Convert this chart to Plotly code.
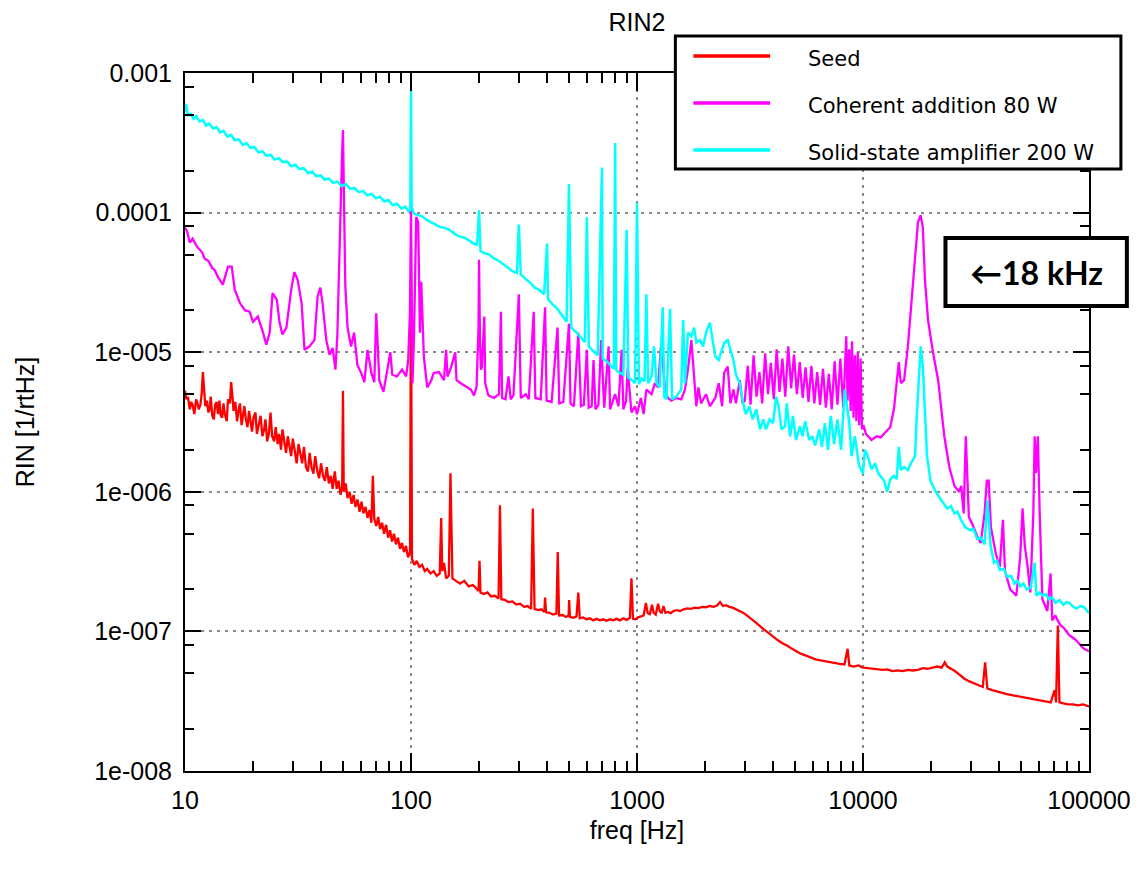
import plotly.graph_objects as go

# ---------------- data ----------------
X_TICKS = [10, 100, 1000, 10000, 100000]
X_TICK_TEXT = ["10", "100", "1000", "10000", "100000"]
X_MINOR = [m * d for d in (10, 100, 1000, 10000) for m in (2, 3, 4, 5, 6, 7, 8, 9)]
Y_TICKS = [1e-8, 1e-7, 1e-6, 1e-5, 1e-4, 1e-3]
Y_TICK_TEXT = ["1e-008", "1e-007", "1e-006", "1e-005", "0.0001", "0.001"]
Y_MINOR = [m * d for d in (1e-8, 1e-7, 1e-6, 1e-5, 1e-4) for m in (2, 5, 8)]

SERIES_NAMES = ["Seed", "Coherent addition 80 W", "Solid-state amplifier 200 W"]

SEED = [
    (10.0, 5.3e-6), (10.15, 4.6e-6), (10.3, 4.8e-6), (10.5, 3.9e-6), (10.65, 4.4e-6), (10.8, 4.2e-6),
    (11.0, 3.6e-6), (11.2, 4.6e-6), (11.35, 4.3e-6), (11.5, 3.9e-6), (11.7, 4.2e-6), (11.85, 5.0e-6),
    (12.0, 7.2e-6), (12.15, 5.2e-6), (12.3, 4.1e-6), (12.5, 4.5e-6), (12.7, 3.7e-6), (12.85, 3.9e-6),
    (13.0, 4.8e-6), (13.2, 3.5e-6), (13.4, 3.3e-6), (13.6, 4.2e-6), (13.8, 4.4e-6), (14.0, 3.6e-6),
    (14.2, 4.5e-6), (14.4, 3.5e-6), (14.6, 3.4e-6), (14.8, 4.3e-6), (15.0, 3.6e-6), (15.3, 3.2e-6),
    (15.5, 4.6e-6), (15.8, 4.3e-6), (16.0, 6.1e-6), (16.2, 4.9e-6), (16.4, 3.8e-6), (16.7, 4.4e-6),
    (17.0, 3.2e-6), (17.2, 3.7e-6), (17.5, 4.3e-6), (17.8, 3.0e-6), (18.0, 3.4e-6), (18.3, 4.1e-6),
    (18.6, 3.3e-6), (18.9, 2.9e-6), (19.2, 3.8e-6), (19.5, 3.2e-6), (19.8, 2.7e-6), (20.1, 3.4e-6),
    (20.5, 3.7e-6), (20.8, 2.6e-6), (21.2, 3.0e-6), (21.6, 3.5e-6), (22.0, 2.5e-6), (22.4, 2.8e-6),
    (22.7, 3.3e-6), (23.1, 2.3e-6), (23.5, 2.6e-6), (23.9, 3.7e-6), (24.3, 2.5e-6), (24.8, 2.3e-6),
    (25.2, 2.9e-6), (25.7, 2.2e-6), (26.1, 2.6e-6), (26.6, 2.0e-6), (27.0, 2.8e-6), (27.5, 2.2e-6),
    (28.0, 1.9e-6), (28.5, 2.5e-6), (29.0, 2.1e-6), (29.5, 1.8e-6), (30.0, 2.4e-6), (30.6, 1.9e-6),
    (31.2, 1.6e-6), (31.8, 2.2e-6), (32.4, 1.8e-6), (33.0, 1.6e-6), (33.6, 2.1e-6), (34.3, 1.5e-6),
    (35.0, 1.4e-6), (35.6, 1.9e-6), (36.3, 1.5e-6), (37.0, 1.35e-6), (37.7, 1.8e-6), (38.5, 1.4e-6),
    (39.2, 1.25e-6), (40.0, 1.6e-6), (40.8, 1.3e-6), (41.6, 1.2e-6), (42.4, 1.5e-6), (43.3, 1.15e-6),
    (44.2, 1.3e-6), (45.0, 1.05e-6), (46.0, 1.4e-6), (46.9, 1.05e-6), (47.8, 1.2e-6), (48.8, 0.95e-6),
    (49.6, 1.1e-6), (50.0, 5.3e-6), (50.4, 1.0e-6), (51.4, 1.15e-6), (52.4, 0.9e-6), (53.5, 1.0e-6),
    (54.6, 0.82e-6), (55.7, 0.95e-6), (56.8, 0.78e-6), (58.0, 0.88e-6), (59.2, 0.72e-6), (60.4, 0.85e-6),
    (61.6, 0.7e-6), (62.9, 0.78e-6), (64.2, 0.65e-6), (65.5, 0.74e-6), (66.8, 0.6e-6), (67.8, 1.3e-6),
    (68.8, 0.64e-6), (70.2, 0.57e-6), (71.6, 0.66e-6), (73.0, 0.54e-6), (74.5, 0.6e-6), (76.0, 0.5e-6),
    (77.6, 0.58e-6), (79.2, 0.47e-6), (80.8, 0.53e-6), (82.4, 0.44e-6), (84.1, 0.5e-6), (85.8, 0.42e-6),
    (87.6, 0.47e-6), (89.4, 0.39e-6), (91.2, 0.43e-6), (93.1, 0.37e-6), (95.0, 0.41e-6), (97.0, 0.34e-6),
    (99.0, 0.37e-6), (99.7, 1.0e-5), (100.0, 3.3e-5), (100.3, 8.0e-6), (101.0, 0.33e-6), (103.5, 0.3e-6),
    (106.0, 0.32e-6), (109.0, 0.29e-6), (112.0, 0.3e-6), (115.0, 0.27e-6), (118.0, 0.28e-6), (122.0, 0.26e-6),
    (126.0, 0.27e-6), (130.0, 0.25e-6), (134.0, 0.26e-6), (136.0, 6.5e-7), (137.5, 0.27e-6), (140.0, 3.1e-7),
    (143.0, 0.24e-6), (147.0, 0.25e-6), (149.5, 1.36e-6), (151.0, 0.5e-6), (152.5, 0.24e-6), (158.0, 0.23e-6),
    (165.0, 0.22e-6), (172.0, 0.23e-6), (180.0, 0.21e-6), (188.0, 0.215e-6), (195.0, 2.0e-7), (199.0, 1.95e-7),
    (201.0, 3.2e-7), (203.0, 1.9e-7), (210.0, 1.85e-7), (218.0, 1.9e-7), (226.0, 1.78e-7), (235.0, 1.8e-7),
    (244.0, 1.72e-7), (247.5, 8.0e-7), (251.0, 1.7e-7), (260.0, 1.68e-7), (270.0, 1.62e-7), (281.0, 1.64e-7),
    (292.0, 1.56e-7), (304.0, 1.58e-7), (316.0, 1.5e-7), (328.0, 1.52e-7), (340.0, 1.45e-7), (346.0, 7.6e-7),
    (352.0, 1.45e-7), (365.0, 1.42e-7), (378.0, 1.44e-7), (389.0, 1.38e-7), (392.0, 1.75e-7), (396.0, 1.37e-7),
    (410.0, 1.36e-7), (425.0, 1.32e-7), (440.0, 1.34e-7), (446.0, 3.7e-7), (452.0, 1.3e-7), (468.0, 1.31e-7),
    (485.0, 1.27e-7), (498.0, 1.3e-7), (501.0, 1.68e-7), (505.0, 1.27e-7), (522.0, 1.25e-7), (540.0, 1.28e-7),
    (550.0, 1.9e-7), (558.0, 1.24e-7), (577.0, 1.26e-7), (597.0, 1.22e-7), (618.0, 1.24e-7), (640.0, 1.2e-7),
    (662.0, 1.23e-7), (685.0, 1.2e-7), (708.0, 1.22e-7), (733.0, 1.19e-7), (758.0, 1.22e-7), (785.0, 1.2e-7),
    (812.0, 1.23e-7), (840.0, 1.2e-7), (870.0, 1.24e-7), (900.0, 1.21e-7), (930.0, 1.25e-7), (945.0, 2.4e-7),
    (960.0, 1.23e-7), (985.0, 1.22e-7), (1010.0, 1.26e-7), (1040.0, 1.28e-7), (1070.0, 1.3e-7), (1095.0, 1.6e-7),
    (1115.0, 1.35e-7), (1140.0, 1.33e-7), (1165.0, 1.55e-7), (1185.0, 1.36e-7), (1210.0, 1.32e-7), (1240.0, 1.58e-7),
    (1260.0, 1.4e-7), (1285.0, 1.35e-7), (1310.0, 1.52e-7), (1335.0, 1.36e-7), (1370.0, 1.38e-7), (1410.0, 1.35e-7),
    (1450.0, 1.4e-7), (1500.0, 1.42e-7), (1550.0, 1.4e-7), (1610.0, 1.44e-7), (1670.0, 1.46e-7), (1730.0, 1.45e-7),
    (1800.0, 1.48e-7), (1870.0, 1.47e-7), (1940.0, 1.5e-7), (2020.0, 1.49e-7), (2100.0, 1.52e-7), (2180.0, 1.5e-7),
    (2260.0, 1.53e-7), (2330.0, 1.62e-7), (2400.0, 1.52e-7), (2480.0, 1.54e-7), (2560.0, 1.5e-7), (2650.0, 1.48e-7),
    (2750.0, 1.44e-7), (2860.0, 1.4e-7), (2970.0, 1.35e-7), (3100.0, 1.28e-7), (3230.0, 1.22e-7), (3370.0, 1.15e-7),
    (3520.0, 1.08e-7), (3680.0, 1.02e-7), (3850.0, 0.96e-7), (4030.0, 0.9e-7), (4220.0, 0.86e-7), (4420.0, 0.82e-7),
    (4630.0, 0.79e-7), (4850.0, 0.75e-7), (5080.0, 0.72e-7), (5330.0, 0.69e-7), (5600.0, 0.67e-7), (5880.0, 0.65e-7),
    (6170.0, 0.63e-7), (6480.0, 0.62e-7), (6800.0, 0.61e-7), (7140.0, 0.6e-7), (7500.0, 0.59e-7), (7880.0, 0.585e-7),
    (8280.0, 0.58e-7), (8550.0, 0.75e-7), (8700.0, 0.57e-7), (9100.0, 0.56e-7), (9550.0, 0.57e-7), (10000.0, 0.55e-7),
    (10500.0, 0.545e-7), (11000.0, 0.54e-7), (11600.0, 0.535e-7), (12200.0, 0.53e-7), (12800.0, 0.535e-7),
    (13500.0, 0.52e-7), (14200.0, 0.525e-7), (15000.0, 0.52e-7), (15800.0, 0.53e-7), (16600.0, 0.525e-7),
    (17500.0, 0.53e-7), (18400.0, 0.545e-7), (19300.0, 0.54e-7), (20300.0, 0.55e-7), (21300.0, 0.56e-7),
    (22300.0, 0.55e-7), (23000.0, 0.6e-7), (23600.0, 0.56e-7), (24500.0, 0.54e-7), (25500.0, 0.52e-7),
    (26700.0, 0.49e-7), (28000.0, 0.46e-7), (29400.0, 0.44e-7), (30800.0, 0.425e-7), (32300.0, 0.41e-7),
    (33900.0, 0.4e-7), (34700.0, 0.6e-7), (35500.0, 0.39e-7), (37300.0, 0.38e-7), (39200.0, 0.37e-7),
    (41200.0, 0.36e-7), (43300.0, 0.355e-7), (45500.0, 0.35e-7), (47800.0, 0.345e-7), (50200.0, 0.34e-7),
    (52800.0, 0.335e-7), (55500.0, 0.33e-7), (58300.0, 0.325e-7), (61300.0, 0.32e-7), (64400.0, 0.315e-7),
    (67700.0, 0.31e-7), (70500.0, 0.38e-7), (71500.0, 0.31e-7), (72800.0, 1.1e-7), (74000.0, 0.31e-7),
    (77000.0, 0.305e-7), (81000.0, 0.3e-7), (85000.0, 0.3e-7), (89500.0, 0.295e-7), (94000.0, 0.3e-7),
    (100000.0, 0.29e-7),
]

COHERENT = [
    (10.0, 7.8e-5), (10.2, 7.4e-5), (10.5, 6.1e-5), (10.8, 6.5e-5), (11.3, 5.7e-5), (11.9, 5.2e-5),
    (12.2, 4.7e-5), (12.7, 4.5e-5), (13.2, 4.0e-5), (13.5, 3.9e-5), (14.0, 3.45e-5), (14.7, 3.05e-5),
    (15.5, 4.1e-5), (16.1, 4.1e-5), (16.6, 2.8e-5), (17.5, 2.25e-5), (18.4, 2.0e-5), (19.3, 1.95e-5),
    (20.0, 1.65e-5), (21.0, 1.8e-5), (22.1, 1.4e-5), (22.9, 1.13e-5), (23.7, 1.38e-5), (24.4, 2.65e-5),
    (25.5, 2.37e-5), (26.2, 1.63e-5), (27.0, 1.34e-5), (28.1, 1.5e-5), (29.6, 2.9e-5), (30.5, 3.75e-5),
    (31.5, 3.3e-5), (32.8, 2.25e-5), (33.8, 1.04e-5), (35.5, 1.1e-5), (37.4, 1.22e-5), (38.6, 2.5e-5),
    (39.7, 2.9e-5), (40.6, 2.25e-5), (42.2, 1.22e-5), (43.6, 9.6e-6), (45.0, 1.07e-5), (46.3, 7.5e-6),
    (47.2, 1.3e-5), (48.3, 7.1e-5), (49.5, 2.5e-4), (50.0, 3.9e-4), (50.5, 1.2e-4), (51.2, 3.0e-5),
    (52.4, 1.5e-5), (54.3, 1.1e-5), (56.0, 1.38e-5), (57.9, 8.1e-6), (60.2, 7.1e-6), (62.2, 6.1e-6),
    (64.2, 1.04e-5), (66.8, 7.1e-6), (68.8, 6.1e-6), (70.2, 1.9e-5), (72.4, 6.3e-6), (75.5, 5.2e-6),
    (78.6, 7.5e-6), (81.0, 1.0e-5), (82.6, 6.9e-6), (86.6, 6.7e-6), (91.3, 7.5e-6), (95.2, 6.7e-6),
    (97.2, 8.8e-6), (99.0, 2.0e-5), (100.0, 1.1e-4), (100.6, 2.0e-5), (101.5, 6.0e-6), (103.0, 1.2e-5),
    (104.0, 3.1e-5), (105.5, 9.3e-5), (107.6, 8.5e-5), (109.5, 1.38e-5), (111.0, 3.2e-5), (114.0, 9.3e-6),
    (118.0, 5.6e-6), (123.0, 6.3e-6), (126.0, 7.1e-6), (133.0, 7.2e-6), (140.0, 6.3e-6), (143.0, 1.04e-5),
    (145.0, 6.7e-6), (150.0, 7.7e-6), (157.0, 1.0e-5), (159.0, 6.3e-6), (166.0, 6.0e-6), (175.0, 5.65e-6),
    (184.0, 5.4e-6), (190.0, 4.9e-6), (195.0, 5.65e-6), (199.0, 1.5e-5), (200.0, 4.6e-5), (202.0, 1.2e-5),
    (204.0, 7.5e-6), (206.0, 7.9e-6), (209.0, 1.4e-5), (211.0, 1.8e-5), (213.0, 6.0e-6), (220.0, 4.9e-6),
    (233.0, 4.7e-6), (245.0, 5.0e-6), (250.0, 1.95e-5), (253.0, 4.7e-6), (262.0, 4.6e-6), (270.0, 6.7e-6),
    (276.0, 4.6e-6), (284.0, 4.9e-6), (300.0, 2.6e-5), (306.0, 4.7e-6), (322.0, 5.0e-6), (332.0, 4.6e-6),
    (349.0, 1.95e-5), (355.0, 4.7e-6), (375.0, 4.6e-6), (392.0, 2.1e-5), (398.0, 4.5e-6), (419.0, 4.4e-6),
    (445.0, 1.5e-5), (453.0, 4.3e-6), (472.0, 4.4e-6), (500.0, 1.6e-5), (508.0, 4.3e-6), (526.0, 4.1e-6),
    (550.0, 1.38e-5), (565.0, 4.1e-6), (582.0, 4.2e-6), (600.0, 1.04e-5), (611.0, 4.0e-6), (630.0, 4.1e-6),
    (642.0, 8.8e-6), (655.0, 3.9e-6), (675.0, 4.2e-6), (694.0, 1.22e-5), (716.0, 4.0e-6), (749.0, 1.1e-5),
    (760.0, 3.9e-6), (800.0, 5.0e-6), (828.0, 4.1e-6), (855.0, 1.04e-5), (870.0, 3.9e-6), (895.0, 4.5e-6),
    (910.0, 7.7e-6), (945.0, 3.7e-6), (980.0, 4.1e-6), (1000.0, 3.6e-6), (1040.0, 4.7e-6), (1070.0, 3.6e-6),
    (1100.0, 5.4e-6), (1160.0, 5.0e-6), (1200.0, 6.0e-6), (1240.0, 5.6e-6), (1280.0, 1.17e-5), (1330.0, 5.4e-6),
    (1370.0, 4.7e-6), (1420.0, 4.5e-6), (1490.0, 4.7e-6), (1570.0, 4.6e-6), (1630.0, 5.4e-6), (1680.0, 7.5e-6),
    (1740.0, 1.22e-5), (1800.0, 5.4e-6), (1830.0, 4.1e-6), (1870.0, 5.6e-6), (1920.0, 4.3e-6), (2020.0, 5.0e-6),
    (2100.0, 4.1e-6), (2220.0, 4.7e-6), (2300.0, 6.0e-6), (2380.0, 4.1e-6), (2430.0, 7.1e-6), (2520.0, 7.9e-6),
    (2590.0, 4.3e-6), (2670.0, 5.4e-6), (2740.0, 4.3e-6), (2850.0, 6.3e-6), (2930.0, 4.3e-6),
    (3000.0, 4.5e-6), (3090.0, 8.0e-6), (3180.0, 4.2e-6), (3280.0, 9.5e-6), (3380.0, 4.8e-6), (3480.0, 7.2e-6),
    (3580.0, 4.3e-6), (3690.0, 9.8e-6), (3800.0, 5.0e-6), (3910.0, 8.4e-6), (4030.0, 4.6e-6), (4150.0, 1.05e-5),
    (4270.0, 5.2e-6), (4400.0, 9.0e-6), (4530.0, 4.8e-6), (4670.0, 1.1e-5), (4810.0, 5.5e-6), (4950.0, 9.6e-6),
    (5100.0, 5.0e-6), (5250.0, 8.5e-6), (5410.0, 4.7e-6), (5570.0, 7.8e-6), (5740.0, 4.4e-6), (5910.0, 8.0e-6),
    (6090.0, 4.3e-6), (6270.0, 7.2e-6), (6460.0, 4.2e-6), (6650.0, 7.6e-6), (6850.0, 4.0e-6), (7060.0, 7.0e-6),
    (7270.0, 3.9e-6), (7490.0, 8.6e-6), (7710.0, 4.2e-6), (7940.0, 9.0e-6), (8180.0, 4.0e-6), (8430.0, 1.3e-5),
    (8550.0, 4.5e-6), (8680.0, 1.05e-5), (8820.0, 3.8e-6), (8940.0, 1.2e-5), (9080.0, 3.4e-6), (9210.0, 9.5e-6),
    (9350.0, 3.2e-6), (9480.0, 1.0e-5), (9620.0, 3.0e-6), (9760.0, 9.0e-6), (9900.0, 2.8e-6), (10050.0, 3.0e-6),
    (10300.0, 2.6e-6), (10900.0, 2.35e-6), (11500.0, 2.5e-6), (12000.0, 2.45e-6), (12500.0, 2.65e-6),
    (13200.0, 2.9e-6), (13700.0, 3.9e-6), (14000.0, 5.4e-6), (14400.0, 8.5e-6), (14700.0, 6.0e-6),
    (15200.0, 6.3e-6), (15800.0, 1.1e-5), (16300.0, 2.1e-5), (17000.0, 4.4e-5), (17500.0, 8.5e-5),
    (18000.0, 9.6e-5), (18400.0, 7.8e-5), (18800.0, 3.3e-5), (19400.0, 1.7e-5), (20400.0, 1.0e-5),
    (21500.0, 6.3e-6), (22900.0, 2.5e-6), (24100.0, 1.5e-6), (25400.0, 1.1e-6), (26600.0, 1.0e-6),
    (27200.0, 1.1e-6), (27900.0, 7.0e-7), (28500.0, 2.5e-6), (29400.0, 6.6e-7), (30400.0, 5.9e-7),
    (32000.0, 4.8e-7), (33200.0, 4.3e-7), (34500.0, 7.0e-7), (35300.0, 1.2e-6), (36000.0, 1.2e-6),
    (36800.0, 5.6e-7), (38700.0, 3.6e-7), (40300.0, 2.9e-7), (41600.0, 6.3e-7), (42500.0, 2.7e-7),
    (44800.0, 2.0e-7), (47700.0, 1.8e-7), (49600.0, 3.4e-7), (50800.0, 7.6e-7), (52000.0, 4.1e-7),
    (53500.0, 2.9e-7), (55000.0, 1.9e-7), (56700.0, 7.0e-7), (57500.0, 2.5e-6), (58200.0, 1.36e-6),
    (59400.0, 2.5e-6), (60500.0, 7.0e-7), (62200.0, 1.7e-7), (65400.0, 1.4e-7), (67600.0, 2.6e-7),
    (68800.0, 1.2e-7), (71000.0, 1.3e-7), (73000.0, 1.18e-7), (75000.0, 1.1e-7), (77000.0, 1.07e-7),
    (79500.0, 1.0e-7), (81700.0, 9.4e-8), (85000.0, 9.0e-8), (88000.0, 8.6e-8), (91500.0, 8.0e-8),
    (95000.0, 7.5e-8), (100000.0, 7.2e-8),
]

SOLID_STATE = [
    (10.0, 5.3e-4), (10.1, 6.0e-4), (10.3, 5.0e-4), (10.6, 5.1e-4), (10.9, 4.7e-4), (11.2, 4.9e-4),
    (11.6, 4.5e-4), (12.0, 4.6e-4), (12.4, 4.2e-4), (12.8, 4.35e-4), (13.3, 4.0e-4), (13.8, 4.1e-4),
    (14.3, 3.75e-4), (14.8, 3.85e-4), (15.4, 3.5e-4), (16.0, 3.6e-4), (16.6, 3.3e-4), (17.3, 3.35e-4),
    (18.0, 3.05e-4), (18.7, 3.15e-4), (19.5, 2.9e-4), (20.3, 2.95e-4), (21.1, 2.7e-4), (22.0, 2.75e-4),
    (22.9, 2.55e-4), (23.9, 2.6e-4), (24.9, 2.4e-4), (26.0, 2.45e-4), (27.1, 2.3e-4), (28.3, 2.32e-4),
    (29.5, 2.15e-4), (30.8, 2.2e-4), (32.1, 2.05e-4), (33.5, 2.08e-4), (35.0, 1.92e-4), (36.5, 1.97e-4),
    (38.1, 1.82e-4), (39.8, 1.85e-4), (41.5, 1.72e-4), (43.3, 1.76e-4), (45.2, 1.63e-4), (47.2, 1.67e-4),
    (49.3, 1.55e-4), (51.5, 1.6e-4), (53.8, 1.48e-4), (56.2, 1.5e-4), (58.7, 1.4e-4), (61.3, 1.43e-4),
    (64.0, 1.33e-4), (66.8, 1.36e-4), (69.8, 1.27e-4), (72.9, 1.3e-4), (76.1, 1.2e-4), (79.5, 1.23e-4),
    (83.0, 1.13e-4), (86.7, 1.16e-4), (90.5, 1.07e-4), (94.5, 1.1e-4), (97.5, 1.02e-4), (99.3, 1.05e-4),
    (100.0, 7.5e-4), (100.7, 1.1e-4), (103.0, 9.8e-5), (107.0, 9.6e-5), (112.0, 9.4e-5), (117.0, 8.9e-5),
    (122.0, 8.6e-5), (128.0, 8.2e-5), (134.0, 7.9e-5), (140.0, 7.8e-5), (146.0, 7.6e-5), (152.0, 7.3e-5),
    (159.0, 6.9e-5), (166.0, 6.7e-5), (173.0, 6.6e-5), (181.0, 6.3e-5), (189.0, 6.0e-5), (196.0, 5.9e-5),
    (200.0, 1.04e-4), (203.0, 5.3e-5), (212.0, 5.1e-5), (222.0, 5.0e-5), (233.0, 4.7e-5), (245.0, 4.5e-5),
    (256.0, 4.3e-5), (268.0, 4.05e-5), (281.0, 3.8e-5), (294.0, 3.7e-5), (300.0, 8.2e-5), (306.0, 3.6e-5),
    (321.0, 3.35e-5), (337.0, 3.15e-5), (353.0, 2.9e-5), (370.0, 2.8e-5), (388.0, 2.6e-5), (400.0, 6.0e-5),
    (404.0, 2.4e-5), (423.0, 2.2e-5), (444.0, 2.05e-5), (466.0, 1.85e-5), (488.0, 1.65e-5), (500.0, 1.6e-4),
    (512.0, 1.5e-5), (536.0, 1.4e-5), (562.0, 1.28e-5), (588.0, 1.18e-5), (600.0, 9.3e-5), (612.0, 1.1e-5),
    (640.0, 1.02e-5), (670.0, 9.5e-6), (700.0, 2.1e-4), (705.0, 9.0e-6), (735.0, 8.6e-6), (765.0, 8.0e-6),
    (790.0, 7.6e-6), (800.0, 3.15e-4), (810.0, 7.4e-6), (840.0, 7.1e-6), (870.0, 6.9e-6), (900.0, 7.5e-5),
    (915.0, 6.6e-6), (950.0, 6.3e-6), (980.0, 6.0e-6), (1000.0, 1.17e-4), (1020.0, 5.9e-6), (1050.0, 6.5e-6),
    (1080.0, 6.2e-6), (1100.0, 2.6e-5), (1120.0, 6.0e-6), (1160.0, 6.7e-6), (1190.0, 1.1e-5), (1220.0, 6.0e-6),
    (1260.0, 5.6e-6), (1300.0, 2.1e-5), (1320.0, 4.8e-6), (1350.0, 4.6e-6), (1400.0, 2.05e-5), (1430.0, 4.6e-6),
    (1490.0, 4.8e-6), (1570.0, 5.4e-6), (1600.0, 1.7e-5), (1630.0, 6.0e-6), (1680.0, 1.38e-5), (1740.0, 1.3e-5),
    (1790.0, 1.5e-5), (1830.0, 1.17e-5), (1900.0, 1.22e-5), (1960.0, 1.1e-5), (2020.0, 1.38e-5), (2100.0, 1.63e-5),
    (2150.0, 1.3e-5), (2220.0, 9.3e-6), (2300.0, 8.8e-6), (2380.0, 1.04e-5), (2430.0, 1.17e-5), (2520.0, 1.22e-5),
    (2590.0, 1.04e-5), (2670.0, 8.8e-6), (2740.0, 6.9e-6), (2850.0, 6.0e-6), (2930.0, 4.5e-6), (3030.0, 3.6e-6),
    (3140.0, 4.1e-6), (3250.0, 3.3e-6), (3370.0, 3.9e-6), (3500.0, 2.8e-6), (3620.0, 3.3e-6), (3720.0, 2.8e-6),
    (3860.0, 3.3e-6), (4000.0, 3.1e-6), (4130.0, 4.8e-6), (4230.0, 4.1e-6), (4360.0, 2.8e-6), (4520.0, 2.95e-6),
    (4600.0, 4.3e-6), (4760.0, 2.5e-6), (4900.0, 3.5e-6), (5050.0, 2.35e-6), (5260.0, 2.95e-6), (5400.0, 2.5e-6),
    (5550.0, 3.2e-6), (5780.0, 2.35e-6), (5960.0, 2.5e-6), (6140.0, 2.15e-6), (6400.0, 2.8e-6), (6580.0, 2.1e-6),
    (6780.0, 3.1e-6), (7000.0, 2.0e-6), (7200.0, 3.5e-6), (7450.0, 2.2e-6), (7700.0, 3.3e-6), (8000.0, 2.0e-6),
    (8300.0, 5.4e-6), (8700.0, 3.1e-6), (8900.0, 1.8e-6), (9200.0, 2.5e-6), (9600.0, 1.55e-6), (10000.0, 1.35e-6),
    (10200.0, 2.0e-6), (10500.0, 1.8e-6), (10900.0, 1.45e-6), (11300.0, 1.6e-6), (11700.0, 1.35e-6),
    (12400.0, 1.2e-6), (12800.0, 1.0e-6), (13200.0, 1.23e-6), (13700.0, 1.3e-6), (14100.0, 1.23e-6),
    (14400.0, 2.1e-6), (14700.0, 1.43e-6), (15200.0, 1.5e-6), (15800.0, 1.43e-6), (16300.0, 1.6e-6),
    (17000.0, 1.8e-6), (17300.0, 3.5e-6), (17800.0, 8.8e-6), (18000.0, 1.1e-5), (18400.0, 7.9e-6),
    (18800.0, 3.5e-6), (19200.0, 1.8e-6), (19900.0, 1.2e-6), (21000.0, 1.0e-6), (22200.0, 8.7e-7),
    (23600.0, 7.6e-7), (24500.0, 7.9e-7), (25400.0, 7.0e-7), (26200.0, 7.2e-7), (27100.0, 6.3e-7),
    (28300.0, 5.6e-7), (29700.0, 5.3e-7), (30800.0, 5.4e-7), (32000.0, 4.6e-7), (33200.0, 4.7e-7),
    (34500.0, 4.2e-7), (35500.0, 8.7e-7), (36700.0, 4.1e-7), (38000.0, 3.1e-7), (39200.0, 3.2e-7),
    (40300.0, 2.75e-7), (42000.0, 2.8e-7), (43600.0, 2.45e-7), (45200.0, 2.5e-7), (46800.0, 2.2e-7),
    (48200.0, 2.3e-7), (49700.0, 2.1e-7), (51300.0, 2.2e-7), (53000.0, 2.0e-7), (55200.0, 2.05e-7),
    (57500.0, 3.1e-7), (58500.0, 1.8e-7), (60500.0, 1.9e-7), (62500.0, 1.8e-7), (64500.0, 1.85e-7),
    (66500.0, 1.7e-7), (68800.0, 1.75e-7), (71000.0, 1.6e-7), (74000.0, 1.68e-7), (77000.0, 1.55e-7),
    (79500.0, 1.62e-7), (82000.0, 1.6e-7), (85000.0, 1.5e-7), (88000.0, 1.46e-7), (91500.0, 1.52e-7),
    (95000.0, 1.5e-7), (100000.0, 1.35e-7),
]

SERIES = [SEED, COHERENT, SOLID_STATE]
COLORS = ["#ff0000", "#ff00ff", "#00ffff"]
LINE_WIDTHS = [2.3, 2.3, 2.5]

# ---------------- layout geometry (pixels) ----------------
FIG_W, FIG_H = 1143, 874
PL, PR, PT, PB = 185, 1092, 73, 771


def px(xp):
    return (xp - PL) / (PR - PL)


def py(yp):
    return (PB - yp) / (PB - PT)


TXT_FONT = "Liberation Sans, Arial, sans-serif"
LEG_FONT = "DejaVu Sans, Verdana, sans-serif"

fig = go.Figure()
for pts, name, color, lw in zip(SERIES, SERIES_NAMES, COLORS, LINE_WIDTHS):
    fig.add_trace(go.Scatter(
        x=[p[0] for p in pts], y=[p[1] for p in pts], mode="lines", name=name,
        line=dict(color=color, width=lw), showlegend=False, hoverinfo="x+y+name",
    ))

axis_common = dict(
    type="log", ticks="inside", tickwidth=1.5, tickcolor="black",
    showline=True, linewidth=2, linecolor="black", mirror="allticks",
    showgrid=True, gridcolor="#8a8a8a", gridwidth=1.5, griddash="3px,5px",
    zeroline=False, tickmode="array",
    tickfont=dict(family=TXT_FONT, size=25, color="black"),
)

fig.update_layout(
    width=FIG_W, height=FIG_H, autosize=False,
    margin=dict(l=PL, r=FIG_W - PR, t=PT, b=FIG_H - PB, pad=0),
    paper_bgcolor="white", plot_bgcolor="white",
    showlegend=False,
    title=dict(text="RIN2", x=0.5, xref="paper", xanchor="center",
               y=1 - 22 / FIG_H, yref="container", yanchor="middle",
               font=dict(family=TXT_FONT, size=25, color="black")),
    xaxis=dict(**axis_common, range=[1, 5], tickvals=X_TICKS, ticktext=X_TICK_TEXT, ticklen=18,
               ticklabelstandoff=6,
               minor=dict(tickmode="array", tickvals=X_MINOR, ticks="inside", ticklen=10,
                          tickwidth=1.5, tickcolor="black", showgrid=False),
               title=dict(text="freq [Hz]", standoff=8,
                          font=dict(family=TXT_FONT, size=25, color="black"))),
    yaxis=dict(**axis_common, range=[-8, -3], tickvals=Y_TICKS, ticktext=Y_TICK_TEXT, ticklen=16,
               ticklabelstandoff=6,
               minor=dict(tickmode="array", tickvals=Y_MINOR, ticks="inside", ticklen=9,
                          tickwidth=1.5, tickcolor="black", showgrid=False),
               title=dict(text="RIN [1/rtHz]", standoff=52,
                          font=dict(family=TXT_FONT, size=25, color="black"))),
)

# ---------------- legend box (drawn) ----------------
shapes = [dict(type="rect", xref="paper", yref="paper", x0=px(677), x1=px(1124), y0=py(169), y1=py(36),
               line=dict(color="black", width=3), fillcolor="white", layer="above")]
annotations = []
rows = [56, 103, 150]
for name, color, yrow in zip(SERIES_NAMES, COLORS, rows):
    shapes.append(dict(type="line", xref="paper", yref="paper", x0=px(695), x1=px(772),
                       y0=py(yrow), y1=py(yrow), line=dict(color=color, width=3.5), layer="above"))
    annotations.append(dict(text=name, xref="paper", yref="paper", x=px(808), y=py(yrow + 3),
                            xanchor="left", yanchor="middle", showarrow=False,
                            font=dict(family=LEG_FONT, size=21, color="black")))

# ---------------- "←18 kHz" label ----------------
shapes.append(dict(type="rect", xref="paper", yref="paper", x0=px(948), x1=px(1130), y0=py(306), y1=py(238),
                   line=dict(color="black", width=4), fillcolor="white", layer="above"))
annotations.append(dict(text="<b>←18 kHz</b>", xref="paper", yref="paper", x=px(1039), y=py(272),
                        xanchor="center", yanchor="middle", showarrow=False,
                        font=dict(family="Lato, Open Sans, sans-serif", size=32, color="black")))

fig.update_layout(shapes=shapes, annotations=annotations)
fig.write_html("out.html")
